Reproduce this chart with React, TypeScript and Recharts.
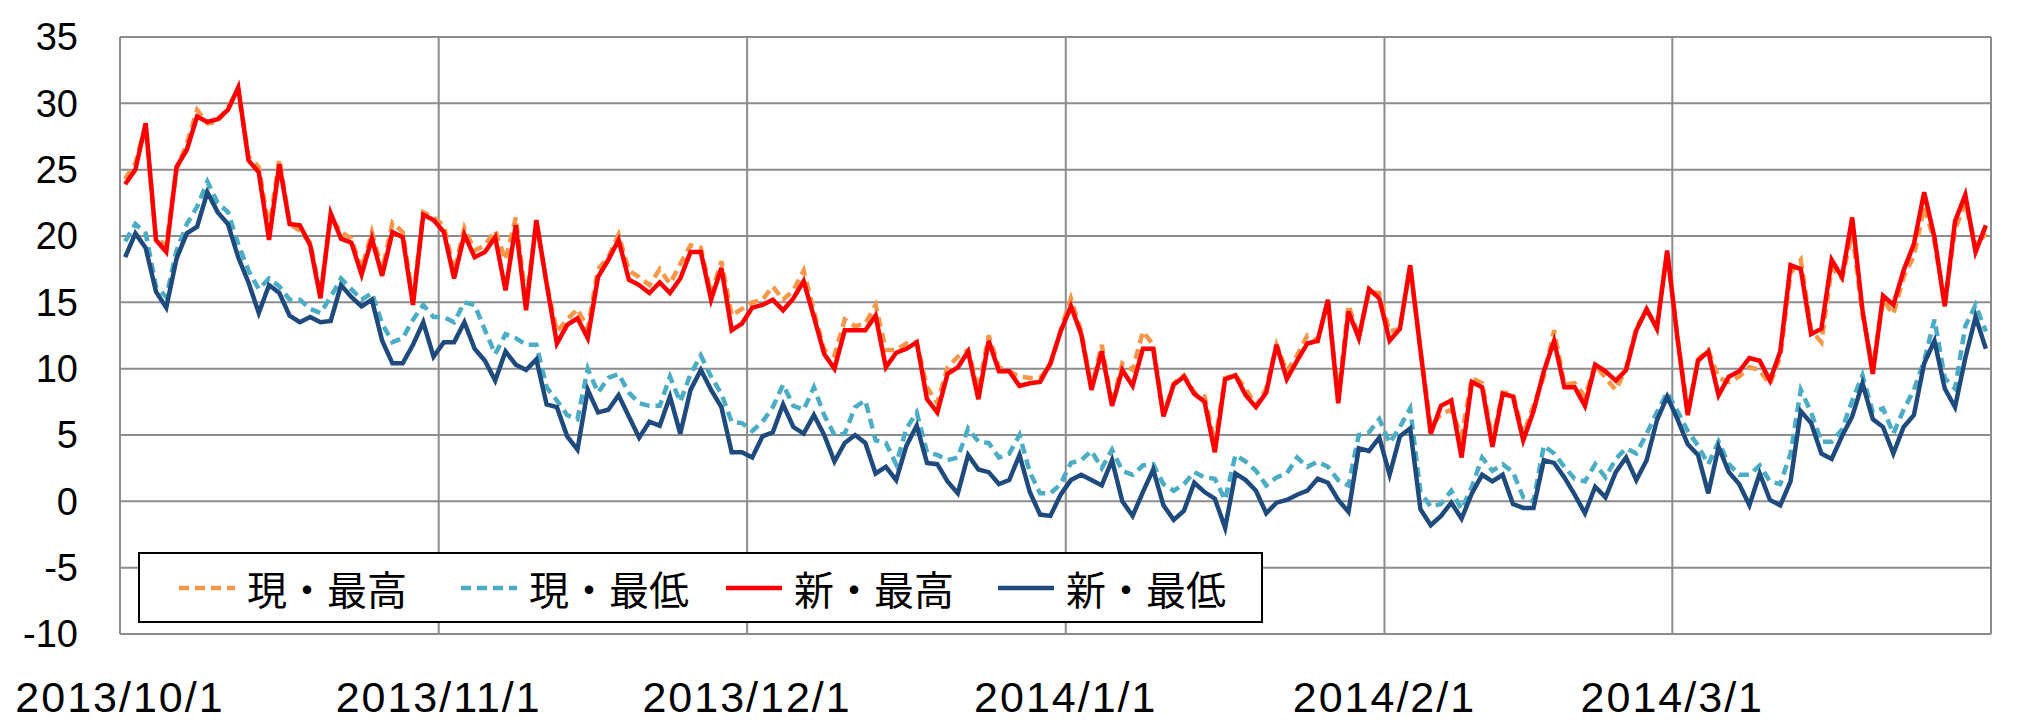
import React from 'react';
import { LineChart, Line, XAxis, YAxis, CartesianGrid } from 'recharts';

// 2013/10/1 .. 2014/3/31, one value per day
const curHigh = [
  24.3, 25.5, 28.3, 19.8, 19.3, 25.0, 27.0, 29.5, 28.5, 28.6, 29.7, 31.0, 26.0, 25.2, 20.5, 25.8,
  20.9, 20.4, 19.5, 15.6, 21.4, 20.3, 19.8, 17.5, 20.3, 17.4, 21.0, 20.3, 15.2, 21.8, 21.4,
  20.8, 17.3, 20.6, 18.9, 19.3, 20.4, 18.2, 21.4, 15.0, 21.0, 16.4, 12.8, 13.7, 14.5, 13.0,
  17.5, 18.4, 20.1, 17.4, 16.9, 16.3, 17.5, 16.4, 17.9, 19.3, 19.1, 15.6, 18.1, 14.0, 14.5,
  15.0, 15.2, 16.2, 15.2, 15.9, 17.4, 14.3, 11.4, 11.0, 13.7, 13.2, 13.4, 14.8, 11.4, 11.4,
  11.9, 12.0, 8.6, 7.4, 10.1, 10.9, 11.4, 8.4, 12.5, 10.1, 9.8, 9.4, 9.3, 9.3, 10.3, 12.9,
  15.3, 12.8, 8.5, 11.8, 7.3, 10.4, 9.9, 12.8, 11.8, 6.5, 8.9, 9.5, 8.2, 7.9, 4.4, 9.3,
  9.5, 8.5, 7.2, 8.5, 11.8, 9.8, 11.0, 12.5, 12.1, 15.1, 7.8, 14.8, 12.4, 15.8, 15.7,
  12.8, 13.0, 17.7, 11.4, 5.6, 6.6, 6.9, 4.9, 9.3, 8.9, 4.6, 8.2, 8.1, 5.0, 7.2, 9.4,
  12.9, 8.8, 8.9, 7.9, 10.3, 9.3, 8.4, 10.0, 13.1, 14.3, 13.3, 18.8,
  12.4, 6.7, 10.7, 11.4, 9.3, 9.0, 9.4, 10.1, 9.9, 8.8, 10.9, 17.2, 18.2, 12.9, 12.0, 17.6,
  16.8, 20.2, 14.1, 10.1, 15.2, 14.1, 16.9, 18.5, 22.2, 19.6, 14.9, 20.5, 22.5, 19.2, 20.2,
];

const curLow = [
  19.6, 20.9, 20.2, 16.2, 15.4, 18.9, 20.9, 22.2, 24.1, 22.5, 21.8, 19.4, 17.4, 16.0, 16.8, 16.2,
  15.2, 15.2, 14.5, 14.2, 15.4, 16.8, 16.0, 15.2, 15.7, 13.4, 12.0, 12.3, 13.7, 14.8, 13.9,
  13.9, 13.5, 15.0, 14.8, 12.9, 11.1, 12.6, 12.3, 11.8, 11.8, 8.6, 7.6, 6.5, 6.2, 10.0,
  8.2, 9.3, 9.6, 8.2, 7.4, 7.2, 7.2, 9.4, 7.5, 9.6, 11.0, 9.4, 8.1, 6.0, 5.9,
  5.3, 6.0, 7.1, 8.8, 7.2, 6.9, 8.6, 6.5, 5.0, 5.1, 7.1, 7.6, 4.6, 4.4, 2.8,
  5.5, 6.7, 3.7, 3.5, 3.1, 3.3, 5.5, 4.5, 4.4, 3.3, 3.6, 5.0, 2.2, 0.6, 0.6, 1.3,
  2.9, 3.1, 3.8, 2.5, 3.9, 2.3, 2.0, 2.7, 2.8, 1.3, 0.8, 1.3, 2.2, 1.8, 1.7, 0.1,
  3.5, 3.0, 2.3, 1.2, 1.8, 2.1, 3.3, 2.6, 3.0, 2.6, 1.6, 1.2, 5.0, 5.2, 6.2,
  4.4, 5.6, 7.0, 0.7, -0.4, -0.2, 0.8, -0.6, 1.1, 3.3, 2.3, 2.8, 2.2, 0.3, 0.0, 4.2,
  3.6, 2.6, 1.7, 1.5, 2.8, 1.8, 3.2, 4.0, 3.6, 5.1, 6.7, 8.2,
  6.8, 5.3, 4.2, 2.8, 4.5, 2.8, 2.0, 2.0, 2.7, 1.5, 1.3, 3.6, 8.4, 6.7, 4.5, 4.5,
  5.4, 7.6, 9.5, 6.7, 7.0, 5.1, 6.9, 8.4, 10.6, 13.7, 9.3, 8.5, 13.2, 14.8, 12.8,
];

const newHigh = [
  23.9, 25.0, 28.5, 19.7, 18.8, 25.2, 26.5, 29.0, 28.6, 28.8, 29.5, 31.2, 25.7, 24.8, 19.7, 25.4,
  20.9, 20.8, 19.3, 15.3, 21.7, 19.8, 19.5, 17.1, 19.8, 17.0, 20.3, 19.9, 14.8, 21.6, 21.2,
  20.3, 16.8, 20.1, 18.4, 18.8, 19.9, 15.9, 20.8, 14.4, 21.2, 16.4, 11.9, 13.3, 13.8, 12.3,
  16.9, 18.2, 19.7, 16.7, 16.3, 15.7, 16.5, 15.7, 16.8, 18.8, 18.8, 15.2, 17.6, 12.9, 13.4,
  14.6, 14.8, 15.2, 14.4, 15.3, 16.6, 13.9, 11.1, 10.0, 12.9, 12.9, 12.9, 14.0, 10.1, 11.2,
  11.5, 12.0, 7.7, 6.7, 9.6, 10.1, 11.3, 7.7, 12.1, 9.8, 9.8, 8.7, 8.9, 9.0, 10.4, 12.8,
  14.7, 12.6, 8.4, 11.3, 7.2, 9.9, 8.7, 11.5, 11.5, 6.4, 8.8, 9.4, 8.1, 7.5, 3.7, 9.2,
  9.5, 8.0, 7.1, 8.2, 11.8, 9.2, 10.6, 11.9, 12.1, 15.2, 7.4, 14.3, 12.3, 16.0, 15.3,
  12.1, 13.0, 17.8, 11.4, 5.1, 7.2, 7.6, 3.3, 9.0, 8.6, 4.1, 8.1, 7.9, 4.6, 6.8, 9.8,
  12.1, 8.6, 8.6, 7.2, 10.3, 9.8, 9.1, 9.9, 12.9, 14.5, 13.0, 18.9,
  12.3, 6.5, 10.6, 11.3, 8.0, 9.4, 9.8, 10.8, 10.6, 9.1, 11.3, 17.8, 17.5, 12.6, 13.0, 18.2,
  16.9, 21.4, 14.4, 9.6, 15.5, 14.8, 17.4, 19.4, 23.3, 19.9, 14.7, 21.1, 23.1, 18.8, 20.8,
];

const newLow = [
  18.4, 20.2, 19.1, 15.8, 14.6, 18.3, 20.2, 20.7, 23.3, 21.8, 20.9, 18.4, 16.5, 14.2, 16.3, 15.7,
  14.0, 13.5, 13.9, 13.5, 13.6, 16.3, 15.4, 14.7, 15.2, 12.1, 10.4, 10.4, 11.8, 13.5, 10.9,
  12.0, 12.0, 13.5, 11.5, 10.6, 9.1, 11.3, 10.3, 9.9, 10.7, 7.3, 7.1, 4.9, 3.9, 8.4,
  6.7, 6.9, 8.0, 6.4, 4.8, 6.0, 5.7, 7.9, 5.1, 8.4, 9.9, 8.4, 7.1, 3.7, 3.7,
  3.3, 4.9, 5.2, 7.3, 5.6, 5.1, 6.5, 5.0, 3.0, 4.4, 5.0, 4.4, 2.1, 2.6, 1.6,
  4.2, 5.7, 2.9, 2.8, 1.5, 0.6, 3.5, 2.4, 2.2, 1.3, 1.6, 3.5, 0.7, -1.0, -1.1, 0.5,
  1.6, 2.0, 1.6, 1.2, 3.1, 0.0, -1.1, 0.7, 2.4, -0.3, -1.4, -0.7, 1.4, 0.7, 0.2, -2.0,
  2.1, 1.6, 0.8, -0.9, -0.1, 0.1, 0.5, 0.8, 1.7, 1.4, 0.1, -0.8, 4.0, 3.8, 4.8,
  2.0, 4.9, 5.5, -0.6, -1.8, -1.1, -0.1, -1.3, 0.6, 2.0, 1.5, 2.0, -0.2, -0.5, -0.5, 3.1,
  2.9, 1.8, 0.5, -0.9, 1.1, 0.3, 2.2, 3.3, 1.6, 3.1, 6.1, 7.9,
  6.2, 4.3, 3.5, 0.6, 4.1, 2.2, 1.3, -0.3, 2.1, 0.1, -0.3, 1.5, 6.8, 5.9, 3.6, 3.2,
  4.9, 6.4, 8.9, 6.2, 5.6, 3.6, 5.6, 6.5, 10.4, 12.1, 8.5, 7.1, 10.8, 13.9, 11.5,
];

// day offsets of the first of each month, plus the end of the range
const monthStarts = [0, 31, 61, 92, 123, 151, 182];
const monthLabels = ['2013/10/1', '2013/11/1', '2013/12/1', '2014/1/1', '2014/2/1', '2014/3/1', ''];
const yTicks = [-10, -5, 0, 5, 10, 15, 20, 25, 30, 35];

const series = [
  { key: 'curHigh', name: '現・最高', color: '#F79646', dash: '10 6' },
  { key: 'curLow', name: '現・最低', color: '#4BACC6', dash: '10 6' },
  { key: 'newHigh', name: '新・最高', color: '#FF0000', dash: undefined },
  { key: 'newLow', name: '新・最低', color: '#1F4A7D', dash: undefined },
];

// each day sits in the middle of its slot on the date axis
const data = newHigh.map((_, i) => ({
  day: i + 0.5,
  curHigh: curHigh[i],
  curLow: curLow[i],
  newHigh: newHigh[i],
  newLow: newLow[i],
}));

const FONT = "'Liberation Sans', Arial, 'Noto Sans CJK JP', sans-serif";

const ChartLegend = () => (
  <div
    style={{
      position: 'absolute',
      left: 138,
      top: 552,
      width: 1121,
      height: 67,
      background: '#fff',
      border: '2px solid #000',
      display: 'flex',
      alignItems: 'center',
      fontFamily: "'Noto Sans CJK JP', sans-serif",
      fontSize: 40,
      color: '#000',
    }}
  >
    {series.map((s, i) => (
      <div
        key={s.key}
        style={{ position: 'absolute', left: [37, 319, 584, 856][i], display: 'flex', alignItems: 'center' }}
      >
        <svg width={60} height={10} style={{ marginRight: 10 }}>
          <line x1={2} y1={5} x2={58} y2={5} stroke={s.color} strokeWidth={4.5} strokeDasharray={s.dash} />
        </svg>
        <span>{s.name}</span>
      </div>
    ))}
  </div>
);

const App: React.FC = () => {
  return (
    <div style={{ position: 'absolute', left: 0, top: 0, width: 2028, height: 726, background: '#fff' }}>
      <LineChart width={2028} height={726} data={data} margin={{ top: 37, right: 37, left: 0, bottom: 0 }}>
        <CartesianGrid stroke="#8c8c8c" strokeWidth={2} />
        <XAxis
          dataKey="day"
          type="number"
          domain={[0, 182]}
          ticks={monthStarts}
          tickFormatter={(v: number) => monthLabels[monthStarts.indexOf(v)]}
          interval={0}
          height={92}
          axisLine={false}
          tickLine={false}
          tickMargin={41}
          tick={{ fill: '#000', fontSize: 43, fontFamily: FONT, letterSpacing: 2 }}
        />
        <YAxis
          type="number"
          domain={[-10, 35]}
          ticks={yTicks}
          interval={0}
          width={120}
          axisLine={false}
          tickLine={false}
          tickSize={0}
          tickMargin={42}
          tick={{ fill: '#000', fontSize: 38, fontFamily: FONT }}
        />
        {series.map((s) => (
          <Line
            key={s.key}
            type="linear"
            dataKey={s.key}
            name={s.name}
            stroke={s.color}
            strokeWidth={4.5}
            strokeDasharray={s.dash}
            dot={false}
            activeDot={false}
            isAnimationActive={false}
          />
        ))}
      </LineChart>
      <ChartLegend />
    </div>
  );
};

export default App;
